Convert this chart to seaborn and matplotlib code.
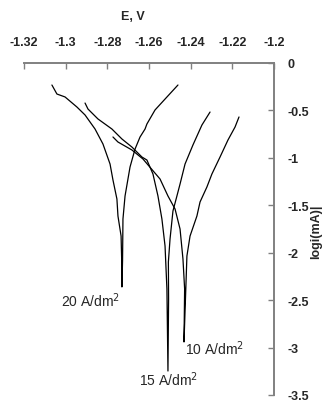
import matplotlib
matplotlib.use("Agg")
import matplotlib.pyplot as plt
import seaborn as sns
import pandas as pd

sns.set_theme(style="white")
plt.rcParams["font.family"] = ["Liberation Sans", "DejaVu Sans"]

# Polarization curves: potential E (V) vs log|i| (mA), cathodic branch then anodic branch
E_20 = [-1.3066, -1.3042, -1.3003, -1.2946, -1.2907, -1.2859, -1.2821, -1.2787, -1.2773,
        -1.2754, -1.2749, -1.2734, -1.2731, -1.2730,
        -1.2727, -1.2725, -1.2715, -1.2701, -1.2691, -1.2667, -1.2643, -1.2619, -1.2610,
        -1.2571, -1.2523, -1.2461]
L_20 = [-0.232, -0.327, -0.358, -0.464, -0.548, -0.696, -0.854, -1.065, -1.233,
        -1.434, -1.613, -1.824, -2.087, -2.361,
        -2.087, -1.645, -1.402, -1.223, -1.096, -0.907, -0.780, -0.696, -0.643,
        -0.495, -0.380, -0.232]

E_15 = [-1.2907, -1.2893, -1.2845, -1.2778, -1.2730, -1.2682, -1.2634, -1.2610, -1.2581,
        -1.2557, -1.2538, -1.2523, -1.2514, -1.2509,
        -1.2506, -1.2507, -1.2499, -1.2485, -1.2466, -1.2451, -1.2427, -1.2389, -1.2346,
        -1.2307]
L_15 = [-0.422, -0.485, -0.590, -0.696, -0.801, -0.886, -0.991, -1.023, -1.170,
        -1.402, -1.645, -1.929, -2.382, -3.247,
        -2.488, -2.098, -1.855, -1.560, -1.402, -1.276, -1.065, -0.864, -0.654,
        -0.517]

E_10 = [-1.2773, -1.2749, -1.2682, -1.2629, -1.2547, -1.2509, -1.2475, -1.2451, -1.2437,
        -1.2429, -1.2432,
        -1.2425, -1.2418, -1.2403, -1.2370, -1.2355, -1.2322, -1.2298, -1.2259, -1.2221,
        -1.2187, -1.2168]
L_10 = [-0.780, -0.833, -0.917, -1.012, -1.223, -1.402, -1.539, -1.750, -2.066,
        -2.382, -2.941,
        -2.488, -2.035, -1.824, -1.613, -1.465, -1.307, -1.170, -0.991, -0.812,
        -0.675, -0.569]

labels = ["20 A/dm$^2$", "15 A/dm$^2$", "10 A/dm$^2$"]
x_ticks = [-1.32, -1.3, -1.28, -1.26, -1.24, -1.22, -1.2]
x_ticklabels = ["-1.32", "-1.3", "-1.28", "-1.26", "-1.24", "-1.22", "-1.2"]
y_ticks = [0, -0.5, -1, -1.5, -2, -2.5, -3, -3.5]
y_ticklabels = ["0", "-0.5", "-1", "-1.5", "-2", "-2.5", "-3", "-3.5"]

frames = []
for name, e, l in zip(labels, [E_20, E_15, E_10], [L_20, L_15, L_10]):
    frames.append(pd.DataFrame({"E": e, "logi": l, "density": name,
                                "order": range(len(e))}))
df = pd.concat(frames, ignore_index=True)

fig = plt.figure(figsize=(3.31, 4.02), dpi=100)
ax = fig.add_axes([24 / 331, 1 - 396 / 402, 250 / 331, 332 / 402])

sns.lineplot(data=df, x="E", y="logi", units="density", estimator=None, sort=False,
             color="black", linewidth=0.9, ax=ax, legend=False)

ax.set_xlim(-1.32, -1.2)
ax.set_ylim(-3.5, 0)

spine_col = "#808080"
for side in ["left", "bottom"]:
    ax.spines[side].set_visible(False)
for side in ["top", "right"]:
    ax.spines[side].set_visible(True)
    ax.spines[side].set_color(spine_col)
    ax.spines[side].set_linewidth(1.4)

ax.xaxis.tick_top()
ax.yaxis.tick_right()
ax.set_xticks(x_ticks)
ax.set_xticklabels(x_ticklabels, fontweight="bold", fontsize=9)
ax.set_yticks(y_ticks)
ax.set_yticklabels(y_ticklabels, fontweight="bold", fontsize=9)
ax.tick_params(axis="x", direction="in", length=4, width=1, color=spine_col, pad=11,
               top=True, bottom=False, labeltop=True, labelbottom=False)
ax.tick_params(axis="y", direction="in", length=4, width=1, color=spine_col, pad=10,
               right=True, left=False, labelright=True, labelleft=False)
ax.set_xlabel("")
ax.set_ylabel("")
ax.grid(False)

fig.text(133 / 331, 1 - 17 / 402, "E, V", ha="center", va="center",
         fontweight="bold", fontsize=9)
fig.text(316 / 331, 1 - 232 / 402, "logi(mA)|", ha="center", va="center",
         rotation=90, fontweight="bold", fontsize=9)

# Curve labels near the bottom of each dip
ax.text(E_20[13] - 0.0009, -2.50, labels[0], ha="right", va="center", fontsize=10)
ax.text(E_15[13] + 0.0005, -3.33, labels[1], ha="center", va="center", fontsize=10)
ax.text(E_10[10] + 0.0006, -3.00, labels[2], ha="left", va="center", fontsize=10)

fig.savefig("out.png", dpi=100)
